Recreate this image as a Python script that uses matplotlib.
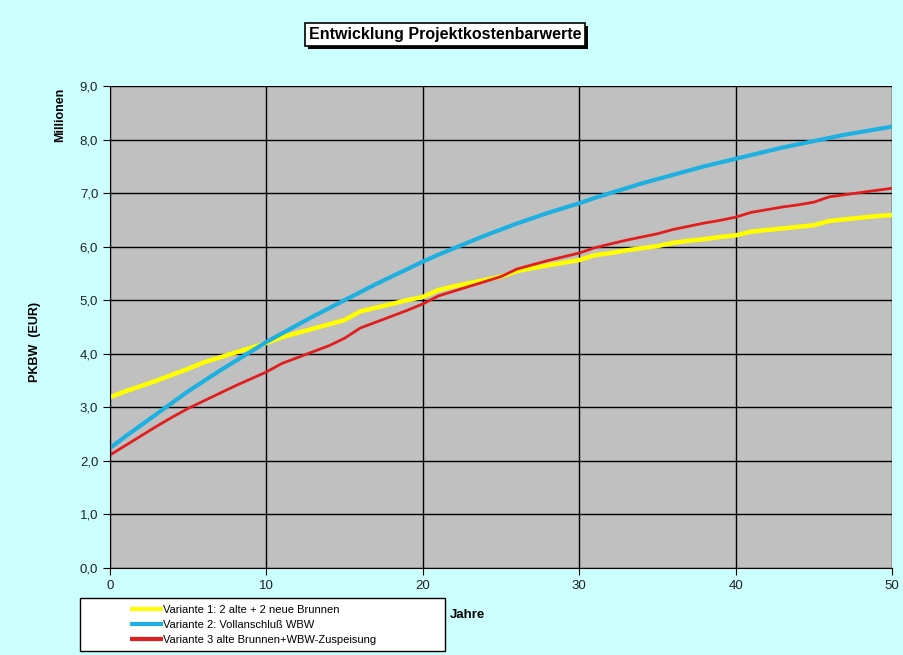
import numpy as np
import matplotlib.pyplot as plt
from matplotlib.ticker import FuncFormatter
from matplotlib.patches import Rectangle

plt.rcParams['font.family'] = ['Liberation Sans', 'DejaVu Sans']

# Jahre 0..50
jahre = list(range(51))

# Variante 1: 2 alte + 2 neue Brunnen (Mio EUR)
v1 = [3.19, 3.30, 3.40, 3.50, 3.61, 3.72, 3.84, 3.93, 4.02, 4.11,
      4.20, 4.31, 4.39, 4.47, 4.55, 4.63, 4.79, 4.86, 4.93, 5.00,
      5.06, 5.19, 5.26, 5.32, 5.38, 5.44, 5.54, 5.60, 5.65, 5.70,
      5.75, 5.84, 5.88, 5.93, 5.97, 6.01, 6.07, 6.11, 6.14, 6.18,
      6.21, 6.28, 6.31, 6.34, 6.37, 6.40, 6.48, 6.51, 6.54, 6.57,
      6.59]

# Variante 2: Vollanschluss WBW
v2 = [2.24, 2.46, 2.67, 2.88, 3.09, 3.30, 3.49, 3.68, 3.86, 4.04,
      4.22, 4.38, 4.54, 4.70, 4.85, 5.00, 5.15, 5.30, 5.44, 5.58,
      5.72, 5.85, 5.97, 6.09, 6.21, 6.32, 6.43, 6.53, 6.63, 6.72,
      6.81, 6.91, 7.00, 7.09, 7.18, 7.26, 7.34, 7.42, 7.50, 7.57,
      7.64, 7.71, 7.78, 7.85, 7.91, 7.97, 8.03, 8.09, 8.14, 8.19,
      8.24]

# Variante 3: alte Brunnen + WBW-Zuspeisung
v3 = [2.11, 2.29, 2.47, 2.65, 2.82, 2.98, 3.12, 3.26, 3.40, 3.53,
      3.66, 3.82, 3.93, 4.04, 4.15, 4.29, 4.48, 4.59, 4.70, 4.81,
      4.93, 5.08, 5.17, 5.26, 5.35, 5.44, 5.58, 5.66, 5.74, 5.81,
      5.88, 5.98, 6.05, 6.12, 6.18, 6.24, 6.32, 6.38, 6.44, 6.49,
      6.55, 6.64, 6.69, 6.74, 6.78, 6.83, 6.93, 6.97, 7.01, 7.05,
      7.09]

labels = ['Variante 1: 2 alte + 2 neue Brunnen',
          'Variante 2: Vollanschluß WBW',
          'Variante 3 alte Brunnen+WBW-Zuspeisung']

fig = plt.figure(figsize=(9.04, 6.55), dpi=100)
fig.patch.set_facecolor('#CCFFFF')
ax = fig.add_axes([0.1217, 0.1328, 0.865, 0.736])
ax.set_facecolor('#C0C0C0')

l1, = ax.plot(jahre, v1, color='#FFFF00', lw=3.2, solid_capstyle='butt')
l2, = ax.plot(jahre, v2, color='#1EB0E0', lw=3.0, solid_capstyle='butt')
l3, = ax.plot(jahre, v3, color='#E01E1E', lw=2.0, solid_capstyle='butt')

ax.set_xlim(0, 50)
ax.set_ylim(0, 9)
ax.set_xticks(range(0, 51, 10))
ax.set_yticks(np.arange(0, 9.1, 1))
ax.yaxis.set_major_formatter(FuncFormatter(lambda v, p: f'{v:.1f}'.replace('.', ',')))
ax.grid(True, color='black', lw=1.0)
ax.set_axisbelow(True)
for s in ['top', 'right']:
    ax.spines[s].set_visible(False)
for s in ['left', 'bottom']:
    ax.spines[s].set_color('black')
ax.tick_params(direction='out', length=5, colors='black', labelsize=9.5,
               labelcolor='#222222')

ax.set_xlabel('Jahre', fontsize=9.5, fontweight='bold')
ax.xaxis.set_label_coords(0.457, -0.085)
ax.set_ylabel('PKBW  (EUR)', fontsize=9, fontweight='bold')
ax.yaxis.set_label_coords(-0.088, 0.47)
fig.text(0.066, 0.825, 'Millionen', rotation=90, fontsize=9,
         fontweight='bold', ha='center', va='center')

# title box, shadow drawn as a patch behind it
t = fig.text(0.492, 0.947, 'Entwicklung Projektkostenbarwerte', ha='center',
             va='center', fontsize=11.5, fontweight='bold', zorder=3,
             bbox=dict(boxstyle='square,pad=0.25', facecolor='white',
                       edgecolor='black', lw=1.2))
fig.canvas.draw()
bb = t.get_bbox_patch().get_window_extent(fig.canvas.get_renderer())
W, H = fig.bbox.width, fig.bbox.height
fig.patches.append(Rectangle(((bb.x0 + 3) / W, (bb.y0 - 3) / H),
                             bb.width / W, bb.height / H,
                             transform=fig.transFigure, facecolor='black',
                             edgecolor='none', zorder=2))

# legend box
fig.patches.append(Rectangle((80 / 904, 1 - 651 / 655), 365 / 904, 53 / 655,
                             transform=fig.transFigure, facecolor='white',
                             edgecolor='black', lw=1.0, zorder=1))
leg = fig.legend([l1, l2, l3], labels, loc='upper left',
                 bbox_to_anchor=(122 / 904, 1 - 597 / 655),
                 fontsize=8, frameon=False, handlelength=3.0,
                 handletextpad=0.0, labelspacing=0.45, borderpad=0.2)
for h in leg.legend_handles:
    h.set_linewidth(3)

fig.savefig('out.png', dpi=100, facecolor=fig.get_facecolor())
